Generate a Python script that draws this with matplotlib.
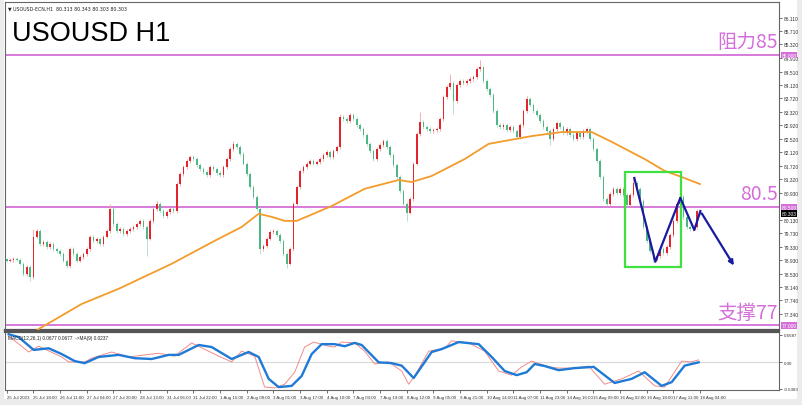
import numpy as np
import matplotlib.pyplot as plt
from matplotlib.transforms import blended_transform_factory
from matplotlib.patches import Rectangle

# 2-hour candles (index 0 = 25 Jul 2023 ... index 208 = 18 Aug 04:00)
closes = [
    78.91, 78.93, 78.96, 78.94, 78.82, 78.52, 78.73, 78.43, 79.62, 79.79,
    79.41, 79.47, 79.32, 79.41, 79.26, 79.20, 79.11, 78.91, 78.76, 79.26,
    79.11, 78.91, 79.02, 79.11, 79.26, 79.62, 79.50, 79.56, 79.41, 79.62,
    79.79, 80.44, 80.00, 79.79, 79.85, 79.70, 79.79, 79.85, 79.91, 80.00,
    80.09, 79.91, 79.56, 80.09, 80.44, 80.59, 80.38, 80.24, 80.35, 80.44,
    80.38, 81.18, 81.48, 81.69, 81.86, 81.98, 81.92, 81.75, 81.63, 81.54,
    81.45, 81.69, 81.63, 81.51, 81.45, 81.69, 81.92, 82.22, 82.37, 82.28,
    82.07, 81.78, 81.48, 81.09, 80.80, 80.44, 79.26, 79.35, 79.56, 79.76,
    79.79, 79.67, 79.50, 79.11, 78.82, 79.26, 80.59, 81.09, 81.57, 81.69,
    81.78, 81.86, 81.78, 81.83, 81.92, 82.04, 82.13, 81.98, 82.16, 82.28,
    83.17, 83.11, 83.05, 83.22, 83.11, 82.93, 82.81, 82.63, 82.37, 82.16,
    81.92, 82.22, 82.34, 82.46, 82.28, 82.04, 81.75, 81.39, 80.98, 80.59,
    80.33, 80.74, 81.78, 82.66, 83.02, 82.87, 82.81, 82.75, 82.78, 82.81,
    83.11, 83.76, 84.05, 84.17, 83.64, 84.11, 84.23, 84.17, 84.23, 84.29,
    84.35, 84.59, 84.64, 84.23, 83.99, 83.82, 83.34, 82.93, 82.87, 82.93,
    82.78, 82.87, 82.75, 82.57, 82.93, 83.34, 83.70, 83.52, 83.34, 83.22,
    83.05, 82.87, 82.75, 82.51, 82.81, 82.99, 82.87, 82.69, 82.81, 82.63,
    82.51, 82.69, 82.57, 82.75, 82.81, 82.51, 82.22, 81.86, 81.39, 80.74,
    80.59, 80.89, 81.04, 80.92, 81.04, 80.86, 80.56, 80.86, 81.21, 81.04,
    80.68, 79.91, 79.50, 79.20, 78.96, 79.05, 79.26, 79.14, 79.32, 79.67,
    80.09, 80.59, 80.80, 80.21, 79.91, 79.85, 79.91, 80.38, 80.30,
]
first_open = 78.95
high_spikes = {31: 80.60, 45: 80.68, 68: 82.45, 100: 83.25, 124: 83.30, 133: 84.45,
               142: 84.85, 156: 83.80, 188: 81.40, 202: 80.90, 8: 79.85}
low_spikes = {7: 78.30, 42: 79.05, 84: 78.70, 120: 80.10, 134: 83.25, 163: 82.35,
              194: 78.88, 205: 79.78, 76: 79.10}

# moving average (orange)
ma_idx = [7.5, 9.6, 22.5, 33.6, 49.5, 62.4, 70.5, 75.6, 79.5, 83.4, 87, 97.5, 107.4,
          117.6, 121.5, 127.5, 137.4, 144.6, 152.4, 157.5, 166.5, 175.5, 181.5,
          191.4, 197.4, 202.5, 208]
ma_val = [76.72, 76.89, 77.63, 78.08, 78.82, 79.50, 79.91, 80.30, 80.21, 80.09, 80.09,
          80.53, 81.04, 81.30, 81.24, 81.42, 81.92, 82.37, 82.51, 82.60, 82.72, 82.72,
          82.43, 81.92, 81.57, 81.39, 81.18]

# MACD panel
macd_idx = [0.6, 3.6, 8.1, 12.6, 16.5, 20.4, 23.4, 27.6, 33.6, 38.4, 43.5, 48.6, 51.6,
            57.6, 61.5, 67.5, 72.6, 75.6, 78.6, 81.6, 85.5, 88.5, 91.5, 94.5, 98.4,
            101.4, 104.4, 106.5, 111.6, 115.5, 118.5, 122.1, 127.5, 130.5, 135.6,
            141.6, 145.5, 149.4, 153, 156, 158.4, 161.4, 165.6, 170.4, 176.1, 182.4,
            187.5, 191.4, 196.5, 199.5, 203.4, 207.6]
macd_val = [0.68, 0.61, 0.30, 0.34, 0.20, 0.03, -0.02, 0.13, 0.18, 0.10, 0.08, 0.18, 0.18,
            0.42, 0.37, 0.08, 0.25, 0.13, -0.40, -0.60, -0.57, -0.33, 0.20, 0.44, 0.44,
            0.39, 0.47, 0.42, 0.00, -0.02, -0.08, -0.38, 0.25, 0.32, 0.49,
            0.44, 0.13, -0.21, -0.31, -0.24, -0.04, -0.09, -0.19, -0.14, -0.11, -0.50,
            -0.40, -0.24, -0.57, -0.48, -0.08, 0.00]
sig_idx = [0.6, 6.6, 9.6, 16.5, 18.6, 23.4, 25.5, 31.5, 36.6, 45.6, 50.4, 55.5, 63.6,
           67.5, 70.5, 74.4, 77.4, 80.4, 83.4, 86.4, 89.4, 92.1, 96.6, 98.4, 100.5,
           104.4, 107.4, 110.4, 114.6, 118.5, 120.6, 122.4, 126.6, 131.4, 133.5, 138.6,
           143.4, 147.6, 151.5, 154.5, 157.5, 162.6, 165.6, 170.4, 174.6, 179.4, 184.5,
           189.6, 194.4, 197.4, 202.5, 205.5, 207.6]
sig_val = [0.64, 0.25, 0.39, 0.13, 0.01, 0.01, 0.10, 0.25, 0.13, 0.22, 0.15, 0.47, 0.15,
           0.01, 0.27, 0.15, -0.60, -0.62, -0.53, -0.24, 0.37, 0.49, 0.39, 0.37, 0.49,
           0.47, 0.27, -0.04, 0.01, -0.21, -0.53, -0.33, 0.27, 0.34, 0.52, 0.47,
           0.27, -0.21, -0.31, -0.11, 0.03, -0.11, -0.14, -0.14, -0.09, -0.53, -0.40,
           -0.21, -0.57, -0.60, 0.03, 0.01, 0.06]

# blue projection path and green box
path_idx = [188.3, 194.6, 202.1, 206.3, 208.1, 218.6]
path_val = [81.36, 78.88, 80.77, 79.82, 80.38, 78.70]
box_idx = (185.6, 202.4)
box_val = (78.73, 81.54)

price_ticks = [86.110, 85.710, 85.320, 84.910, 84.510, 84.120, 83.720, 83.320, 82.920,
               82.520, 82.120, 81.720, 81.320, 80.930, 80.130, 79.730, 79.330, 78.930,
               78.530, 78.140, 77.740, 77.340]
levels = [85.0, 80.5, 77.0]
level_names = ['阻力85', '80.5', '支撑77']
last_price = 80.303

time_labels = ['25 Jul 2023', '25 Jul 18:00', '26 Jul 11:00', '27 Jul 04:00', '27 Jul 20:00',
               '28 Jul 13:00', '31 Jul 06:00', '31 Jul 22:00', '1 Aug 15:00', '2 Aug 08:00',
               '3 Aug 01:00', '3 Aug 17:00', '4 Aug 10:00', '7 Aug 03:00', '7 Aug 19:00',
               '8 Aug 12:00', '9 Aug 05:00', '9 Aug 21:00', '10 Aug 14:00', '11 Aug 07:00',
               '11 Aug 23:00', '14 Aug 16:00', '15 Aug 09:00', '16 Aug 02:00', '16 Aug 18:00',
               '17 Aug 11:00', '18 Aug 04:00']

plt.rcParams['font.family'] = ['Liberation Sans', 'DejaVu Sans']
PINK = '#d46fd9'
W, H = 802, 406

fig = plt.figure(figsize=(W / 100, H / 100), dpi=100, facecolor='#ececec')
fig.patches.append(Rectangle((4 / W, 6 / H), 793 / W, 1 - 6 / H, transform=fig.transFigure,
                             facecolor='white', edgecolor='none', zorder=-5))

ax = fig.add_axes([5 / W, 1 - 331 / H, 774 / W, 328 / H])
ax2 = fig.add_axes([5 / W, 1 - 391 / H, 774 / W, 58 / H])
ax.set_facecolor('white')
ax2.set_facecolor('white')

# candles
c = np.array(closes)
o = np.concatenate([[first_open], c[:-1]])
x = np.arange(len(c))
hi = np.maximum(o, c) + 0.05
lo = np.minimum(o, c) - 0.05
for k, v in high_spikes.items():
    hi[k] = v
for k, v in low_spikes.items():
    lo[k] = v
up = c >= o
ax.vlines(x[up], lo[up], hi[up], color='#f2a0a0', lw=0.6, zorder=2)
ax.vlines(x[~up], lo[~up], hi[~up], color='#a8dcc0', lw=0.6, zorder=2)
body = np.maximum(np.abs(c - o), 0.02)
ax.bar(x[up], body[up], bottom=np.minimum(o, c)[up], width=0.5, color='#e3242b', zorder=3)
ax.bar(x[~up], body[~up], bottom=np.minimum(o, c)[~up], width=0.5, color='#4db783', zorder=3)

ax.plot(ma_idx, ma_val, color='#f39c2b', lw=1.3, zorder=4)

for lv in levels:
    ax.axhline(lv, color=PINK, lw=1.3, zorder=1)

ax.add_patch(Rectangle((box_idx[0], box_val[0]), box_idx[1] - box_idx[0], box_val[1] - box_val[0],
                       fill=False, edgecolor='#3fe03f', lw=1.6, zorder=5))
ax.plot(path_idx[:-1], path_val[:-1], color='#1a1aa0', lw=1.6, zorder=6)
ax.annotate('', xy=(path_idx[-1], path_val[-1]), xytext=(path_idx[-2], path_val[-2]),
            arrowprops=dict(arrowstyle='-|>', color='#1a1aa0', lw=1.6, mutation_scale=7),
            zorder=6)

ax.set_xlim(-0.5, 231.7)
ax.set_ylim(76.86, 86.57)
ax.yaxis.tick_right()
ax.set_yticks(price_ticks, [f'{v:.3f}' for v in price_ticks])
ax.tick_params(axis='y', labelsize=3.5, length=2, width=0.5, pad=1.5, colors='#333333')
ax.tick_params(axis='x', bottom=False, labelbottom=False)
for s in ax.spines.values():
    s.set_color('#666666')
    s.set_linewidth(0.8)
ax.spines['bottom'].set_linewidth(1.6)
ax.spines['bottom'].set_color('#555555')

tr = blended_transform_factory(ax.transAxes, ax.transData)
for lv in levels:
    ax.text(1.003, lv, f'{lv:.3f}', transform=tr, fontsize=3.5, color='white', va='center',
            ha='left', zorder=10, clip_on=False,
            bbox=dict(boxstyle='square,pad=0.15', facecolor=PINK, edgecolor='none'))
ax.text(1.003, last_price, f'{last_price:.3f}', transform=tr, fontsize=3.5, color='white',
        va='center', ha='left', zorder=10, clip_on=False,
        bbox=dict(boxstyle='square,pad=0.15', facecolor='black', edgecolor='none'))

for lv, name in zip(levels, level_names):
    ax.text(0.998, lv + 0.08, name, transform=tr, fontsize=14, color=PINK, ha='right',
            va='bottom', family=['Noto Sans CJK SC', 'DejaVu Sans'], fontweight='light',
            zorder=7)

ax.text(0.009, 0.905, 'USOUSD H1', transform=ax.transAxes, fontsize=19.5, color='black',
        ha='left', va='center')
ax.text(0.004, 0.991, '▼ USOUSD-ECN,H1  80.313 80.343 80.303 80.303', transform=ax.transAxes,
        fontsize=3.4, color='#222222', ha='left', va='top', family=['DejaVu Sans'])

# MACD
ax2.axhline(0, color='#d8d8d8', lw=0.8)
ax2.plot(sig_idx, sig_val, color='#f28a8a', lw=0.7)
ax2.plot(macd_idx, macd_val, color='#1f7ad6', lw=1.7)
ax2.set_xlim(-0.5, 231.7)
ax2.set_ylim(-0.67, 0.734)
ax2.yaxis.tick_right()
ax2.set_yticks([0.6687, 0.0, -0.6383], ['0.6687', '0.00', '-0.6383'])
ax2.set_xticks(np.arange(len(time_labels)) * 8, time_labels, ha='left')
ax2.tick_params(axis='both', labelsize=3.2, length=2, width=0.5, pad=1.5, colors='#333333')
for s in ax2.spines.values():
    s.set_color('#666666')
    s.set_linewidth(0.8)
ax2.spines['top'].set_linewidth(1.6)
ax2.spines['top'].set_color('#555555')
ax2.text(0.004, 0.95, 'MACD(12,26,1) 0.0677 0.0677  ->MA(9) 0.0237', transform=ax2.transAxes,
         fontsize=3.4, color='#222222', ha='left', va='top')

fig.savefig('out.png', dpi=100, facecolor=fig.get_facecolor())
